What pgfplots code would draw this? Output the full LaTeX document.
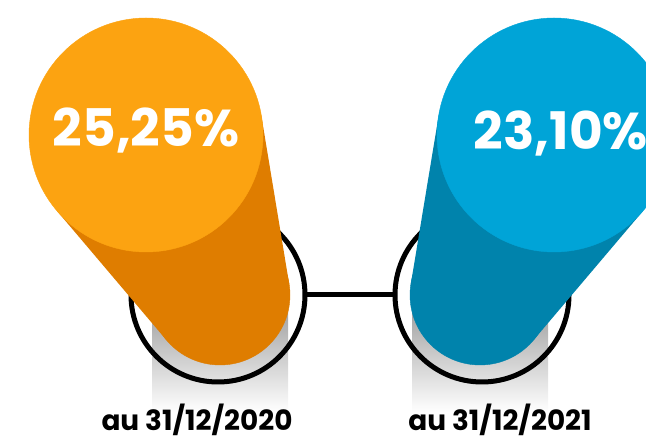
\documentclass[border=0pt]{standalone}
\usepackage{fontspec}
\setmainfont{Poppins}
\usepackage{pgfplots}
\pgfplotsset{compat=1.18}

\definecolor{olight}{HTML}{FCA311}
\definecolor{odark}{HTML}{DF7D00}
\definecolor{blight}{HTML}{00A4D7}
\definecolor{bdark}{HTML}{0083AC}

\begin{document}
\begin{tikzpicture}
\begin{axis}[
  width=646bp, height=440bp, scale only axis,
  xmin=0, xmax=646, ymin=0, ymax=440,
  y dir=reverse,
  hide axis,
  clip mode=individual,
]
% shadows under the cylinders
\addplot[draw=none, top color=black!40, bottom color=white] coordinates {(152,300) (288,300) (288,412) (152,412)} --cycle;
\addplot[draw=none, top color=black!40, bottom color=white] coordinates {(412,300) (548,300) (548,412) (412,412)} --cycle;

% outline rings and connector
\addplot[only marks, mark=o, mark size=87bp, mark options={draw=black, line width=5bp}] coordinates {(218,295) (482,295)};
\addplot[black, line width=5bp] coordinates {(305,295) (395,295)};

% orange cylinder
\addplot[fill=odark, draw=none] coordinates {(56.8,210.7) (166.6,340.3) (289.1,283.6) (261.4,116)} --cycle;
\addplot[only marks, mark=*, mark size=70bp, mark options={fill=odark, draw=odark}] coordinates {(220,295)};
\addplot[only marks, mark=*, mark size=117bp, mark options={fill=olight, draw=olight}] coordinates {(146,135)};

% blue cylinder
\addplot[fill=bdark, draw=none] coordinates {(643.2,210.7) (533.4,340.3) (410.9,283.6) (438.6,116)} --cycle;
\addplot[only marks, mark=*, mark size=70bp, mark options={fill=bdark, draw=bdark}] coordinates {(480,295)};
\addplot[only marks, mark=*, mark size=117bp, mark options={fill=blight, draw=blight}] coordinates {(554,135)};

% values
\addplot[only marks, mark=none, point meta=explicit,
  nodes near coords={\pgfmathprintnumber[fixed, fixed zerofill, precision=2, use comma, assume math mode=true]{\pgfplotspointmeta}\%},
  every node near coord/.append style={anchor=base, text=white, font=\fontsize{52}{52}\selectfont\bfseries, inner sep=0pt}]
  coordinates {(146,147) [25.25] (561,150) [23.10]};

% labels
\node[anchor=base, inner sep=0pt, font=\fontsize{28}{28}\selectfont\bfseries] at (axis cs:197,431) {au 31/12/2020};
\node[anchor=base, inner sep=0pt, font=\fontsize{28}{28}\selectfont\bfseries] at (axis cs:500,431) {au 31/12/2021};
\end{axis}
\pgfresetboundingbox
\useasboundingbox (current axis.south west) rectangle (current axis.north east);
\end{tikzpicture}
\end{document}
